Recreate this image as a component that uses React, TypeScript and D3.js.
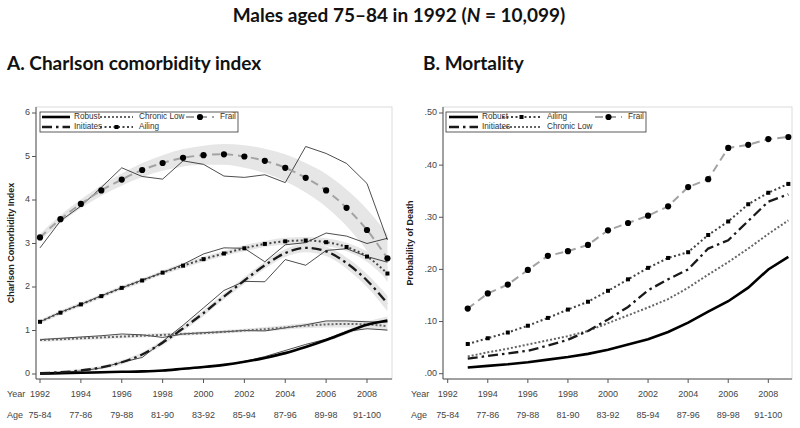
import * as d3 from "d3";

// ---- shared axis labels ----
const YEARS = [1992, 1993, 1994, 1995, 1996, 1997, 1998, 1999, 2000, 2001, 2002, 2003, 2004, 2005, 2006, 2007, 2008, 2009];
const MORT_YEARS = [1993, 1994, 1995, 1996, 1997, 1998, 1999, 2000, 2001, 2002, 2003, 2004, 2005, 2006, 2007, 2008, 2009];
const TICK_YEARS = [1992, 1994, 1996, 1998, 2000, 2002, 2004, 2006, 2008];
const AGE_LABELS = ["75-84", "77-86", "79-88", "81-90", "83-92", "85-94", "87-96", "89-98", "91-100"];
const CCI_TICKS = [0, 1, 2, 3, 4, 5, 6];
const MORT_TICKS = [0, 0.1, 0.2, 0.3, 0.4, 0.5];

// ---- panel A: Charlson comorbidity index (fitted, 95% band half-width, observed) ----
const robustFit = [0.01, 0.02, 0.03, 0.04, 0.05, 0.06, 0.08, 0.12, 0.16, 0.21, 0.28, 0.37, 0.48, 0.62, 0.78, 0.96, 1.13, 1.23];
const robustBand = [0.02, 0.02, 0.02, 0.02, 0.02, 0.02, 0.02, 0.02, 0.02, 0.02, 0.02, 0.03, 0.03, 0.03, 0.04, 0.05, 0.07, 0.09];
const robustObs = [0.0, 0.01, 0.02, 0.03, 0.04, 0.05, 0.07, 0.11, 0.15, 0.2, 0.29, 0.4, 0.54, 0.68, 0.8, 0.98, 1.04, 1.01];

const initiatesFit = [0.02, 0.04, 0.08, 0.15, 0.27, 0.45, 0.72, 1.05, 1.4, 1.78, 2.15, 2.5, 2.78, 2.9, 2.82, 2.55, 2.15, 1.62];
const initiatesBand = [0.03, 0.03, 0.04, 0.04, 0.05, 0.05, 0.06, 0.06, 0.07, 0.07, 0.08, 0.08, 0.09, 0.1, 0.11, 0.13, 0.15, 0.18];
const initiatesObs = [0.0, 0.03, 0.07, 0.14, 0.27, 0.38, 0.75, 1.12, 1.52, 1.92, 2.13, 2.12, 2.63, 2.5, 2.84, 2.88, 2.7, 2.57];

const chronicFit = [0.78, 0.8, 0.82, 0.84, 0.86, 0.88, 0.9, 0.92, 0.94, 0.97, 1.0, 1.03, 1.07, 1.11, 1.14, 1.15, 1.14, 1.1];
const chronicBand = [0.04, 0.04, 0.04, 0.04, 0.04, 0.04, 0.04, 0.04, 0.04, 0.04, 0.04, 0.05, 0.05, 0.06, 0.07, 0.08, 0.09, 0.11];
const chronicObs = [0.79, 0.82, 0.85, 0.88, 0.92, 0.9, 0.84, 0.92, 0.95, 0.97, 1.0, 0.99, 1.06, 1.13, 1.22, 1.22, 1.2, 1.19];

const ailingFit = [1.2, 1.41, 1.6, 1.79, 1.98, 2.15, 2.33, 2.49, 2.64, 2.77, 2.89, 2.99, 3.05, 3.07, 3.03, 2.92, 2.7, 2.31];
const ailingBand = [0.05, 0.05, 0.05, 0.05, 0.05, 0.05, 0.05, 0.06, 0.06, 0.06, 0.07, 0.07, 0.08, 0.08, 0.09, 0.1, 0.12, 0.15];
const ailingObs = [1.2, 1.42, 1.6, 1.8, 1.98, 2.16, 2.33, 2.52, 2.76, 2.9, 2.89, 2.58, 2.97, 3.02, 3.24, 3.17, 3.0, 3.12];

const frailFit = [3.14, 3.56, 3.91, 4.22, 4.47, 4.69, 4.85, 4.97, 5.03, 5.05, 5.0, 4.9, 4.74, 4.51, 4.22, 3.82, 3.31, 2.66];
const frailBand = [0.08, 0.09, 0.1, 0.12, 0.14, 0.16, 0.18, 0.2, 0.22, 0.24, 0.26, 0.28, 0.31, 0.34, 0.38, 0.42, 0.48, 0.55];
const frailObs = [2.9, 3.52, 3.86, 4.29, 4.74, 4.54, 4.48, 4.9, 4.82, 4.55, 4.52, 4.58, 4.4, 5.23, 5.07, 4.84, 4.38, 3.08];

// ---- panel B: probability of death ----
const robustMort = [0.012, 0.015, 0.018, 0.022, 0.027, 0.032, 0.038, 0.046, 0.056, 0.066, 0.08, 0.098, 0.119, 0.139, 0.165, 0.2, 0.224];
const initiatesMort = [0.029, 0.034, 0.039, 0.044, 0.054, 0.065, 0.082, 0.104, 0.128, 0.16, 0.181, 0.2, 0.24, 0.256, 0.293, 0.33, 0.344];
const chronicMort = [0.033, 0.041, 0.048, 0.056, 0.064, 0.072, 0.082, 0.097, 0.112, 0.127, 0.143, 0.165, 0.19, 0.214, 0.24, 0.268, 0.294];
const ailingMort = [0.057, 0.068, 0.079, 0.092, 0.107, 0.123, 0.138, 0.159, 0.181, 0.203, 0.222, 0.233, 0.266, 0.292, 0.325, 0.347, 0.364];
const frailMort = [0.125, 0.154, 0.171, 0.199, 0.226, 0.235, 0.247, 0.275, 0.289, 0.303, 0.321, 0.358, 0.373, 0.433, 0.439, 0.45, 0.454];

const STYLE: Record<string, any> = {
  Robust: { stroke: "#000", width: 2.6, dash: undefined, marker: null },
  Initiates: { stroke: "#1a1a1a", width: 2.3, dash: "10 4 2.5 4", marker: null },
  "Chronic Low": { stroke: "#666", width: 2, dash: "2 2", marker: null },
  Ailing: { stroke: "#444", width: 2, dash: "2 2.5", marker: "square" },
  Frail: { stroke: "#a3a3a3", width: 2, dash: "8 5", marker: "circle" },
};

const LABEL_FONT = "'Liberation Sans', Arial, sans-serif";
const TITLE_FONT = "Lato, 'Open Sans', sans-serif";

const Marker = ({ type, cx, cy }: { type: string; cx: number; cy: number }) =>
  type === "circle" ? (
    <circle cx={cx} cy={cy} r={3.1} fill="#000" />
  ) : (
    <rect x={cx - 2} y={cy - 2} width={4} height={4} fill="#000" />
  );

const LegendItem = ({ name, x0, x1, tx, y }: any) => {
  const s = STYLE[name];
  return (
    <g>
      <line x1={x0} x2={x1} y1={y} y2={y} stroke={s.stroke} strokeWidth={s.width} strokeDasharray={s.dash} />
      {s.marker && <Marker type={s.marker} cx={(x0 + x1) / 2} cy={y} />}
      <text x={tx} y={y} dominantBaseline="middle" fontSize={8.2} fill="#333" fontFamily={LABEL_FONT}>
        {name}
      </text>
    </g>
  );
};

const Frame = ({ left, right, top, bottom, x, y, yTicks, yFmt, yTitle, labelX, titleX }: any) => (
  <g fontFamily={LABEL_FONT}>
    <rect x={left} y={top} width={right - left} height={bottom - top} fill="none" stroke="#dcdcdc" />
    <line x1={left} x2={left} y1={top} y2={bottom} stroke="#555" />
    <line x1={left} x2={right} y1={bottom} y2={bottom} stroke="#555" />
    {yTicks.map((t: number) => (
      <g key={t}>
        <line x1={left - 4} x2={left} y1={y(t)} y2={y(t)} stroke="#555" />
        <text x={left - 6} y={y(t)} textAnchor="end" dominantBaseline="middle" fontSize={9} fill="#444">
          {yFmt(t)}
        </text>
      </g>
    ))}
    {TICK_YEARS.map((t, i) => (
      <g key={t}>
        <line x1={x(t)} x2={x(t)} y1={bottom} y2={bottom + 4} stroke="#555" />
        <text x={x(t)} y={395} textAnchor="middle" dominantBaseline="middle" fontSize={9} fill="#444">
          {t}
        </text>
        <text x={x(t)} y={416} textAnchor="middle" dominantBaseline="middle" fontSize={9} fill="#444">
          {AGE_LABELS[i]}
        </text>
      </g>
    ))}
    <text x={labelX} y={395} dominantBaseline="middle" fontSize={9} fill="#444">Year</text>
    <text x={labelX} y={416} dominantBaseline="middle" fontSize={9} fill="#444">Age</text>
    <text
      transform={`translate(${titleX},243) rotate(-90)`}
      textAnchor="middle"
      dominantBaseline="middle"
      fontSize={9}
      fontWeight="bold"
      fill="#222"
    >
      {yTitle}
    </text>
  </g>
);

export default function App() {
  // panel A scales
  const xA = d3.scaleLinear().domain([1992, 2008]).range([40, 367]);
  const yA = d3.scaleLinear().domain([0, 6]).range([374, 113]);
  // panel B scales
  const xB = d3.scaleLinear().domain([1992, 2008]).range([447.7, 768.3]);
  const yB = d3.scaleLinear().domain([0, 0.5]).range([373.7, 113]);

  const seriesA = [
    { name: "Chronic Low", fit: chronicFit, band: chronicBand, obs: chronicObs },
    { name: "Robust", fit: robustFit, band: robustBand, obs: robustObs },
    { name: "Initiates", fit: initiatesFit, band: initiatesBand, obs: initiatesObs },
    { name: "Ailing", fit: ailingFit, band: ailingBand, obs: ailingObs },
    { name: "Frail", fit: frailFit, band: frailBand, obs: frailObs },
  ];
  const seriesB = [
    { name: "Robust", values: robustMort },
    { name: "Chronic Low", values: chronicMort },
    { name: "Initiates", values: initiatesMort },
    { name: "Ailing", values: ailingMort },
    { name: "Frail", values: frailMort },
  ];

  const fitLine = d3
    .line<number>()
    .x((_, i) => xA(YEARS[i]))
    .y((d) => yA(d))
    .curve(d3.curveMonotoneX);
  const obsLine = d3
    .line<number>()
    .x((_, i) => xA(YEARS[i]))
    .y((d) => yA(d));
  const bandArea = (fit: number[], band: number[]) =>
    d3
      .area<number>()
      .x((_, i) => xA(YEARS[i]))
      .y0((d, i) => yA(d - band[i]))
      .y1((d, i) => yA(d + band[i]))
      .curve(d3.curveMonotoneX)(fit);
  const mortLine = d3
    .line<number>()
    .x((_, i) => xB(MORT_YEARS[i]))
    .y((d) => yB(d));

  return (
    <svg width={800} height={428} style={{ position: "absolute", left: 0, top: 0, background: "#fff" }}>
      <rect width={800} height={428} fill="#fff" />
      <g fontFamily={TITLE_FONT} fontWeight="bold" fill="#111">
        <text x={399} y={22} textAnchor="middle" fontSize={19}>
          Males aged 75–84 in 1992 (<tspan fontStyle="italic">N</tspan> = 10,099)
        </text>
        <text x={7} y={70} fontSize={19}>A. Charlson comorbidity index</text>
        <text x={423} y={70} fontSize={19}>B. Mortality</text>
      </g>

      {/* Panel A */}
      <Frame left={36} right={392} top={107} bottom={379} x={xA} y={yA} yTicks={CCI_TICKS}
        yFmt={(t: number) => String(t)} yTitle="Charlson Comorbidity Index" labelX={7} titleX={12} />
      <g>
        {seriesA.map((s) => (
          <path key={s.name} d={bandArea(s.fit, s.band) || ""} fill="#e6e6e6" />
        ))}
        {seriesA.map((s) => (
          <path key={s.name} d={obsLine(s.obs) || ""} fill="none" stroke="#000" strokeWidth={0.7} />
        ))}
        {seriesA.map((s) => {
          const st = STYLE[s.name];
          return (
            <g key={s.name}>
              <path d={fitLine(s.fit) || ""} fill="none" stroke={st.stroke} strokeWidth={st.width}
                strokeDasharray={st.dash} />
              {st.marker && s.fit.map((v, i) => <Marker key={i} type={st.marker} cx={xA(YEARS[i])} cy={yA(v)} />)}
            </g>
          );
        })}
      </g>
      <g>
        <rect x={40} y={112} width={198} height={20} fill="#fff" stroke="#333" strokeWidth={0.8} />
        <LegendItem name="Robust" x0={42} x1={70} tx={74} y={117} />
        <LegendItem name="Chronic Low" x0={100} x1={133} tx={139} y={117} />
        <LegendItem name="Frail" x0={186} x1={214} tx={220} y={117} />
        <LegendItem name="Initiates" x0={42} x1={70} tx={74} y={127} />
        <LegendItem name="Ailing" x0={100} x1={133} tx={139} y={127} />
      </g>

      {/* Panel B */}
      <Frame left={443} right={792} top={107} bottom={379} x={xB} y={yB} yTicks={MORT_TICKS}
        yFmt={(t: number) => d3.format(".2f")(t).replace(/^0/, "")} yTitle="Probability of Death"
        labelX={411} titleX={411} />
      <g>
        {seriesB.map((s) => {
          const st = STYLE[s.name];
          return (
            <g key={s.name}>
              <path d={mortLine(s.values) || ""} fill="none" stroke={st.stroke} strokeWidth={st.width}
                strokeDasharray={st.dash} />
              {st.marker &&
                s.values.map((v, i) => <Marker key={i} type={st.marker} cx={xB(MORT_YEARS[i])} cy={yB(v)} />)}
            </g>
          );
        })}
      </g>
      <g>
        <rect x={446} y={112} width={200} height={20} fill="#fff" stroke="#333" strokeWidth={0.8} />
        <LegendItem name="Robust" x0={449} x1={478} tx={482} y={117} />
        <LegendItem name="Ailing" x0={502} x1={541} tx={547} y={117} />
        <LegendItem name="Frail" x0={595} x1={622} tx={628} y={117} />
        <LegendItem name="Initiates" x0={449} x1={478} tx={482} y={127} />
        <LegendItem name="Chronic Low" x0={502} x1={541} tx={547} y={127} />
      </g>
    </svg>
  );
}
